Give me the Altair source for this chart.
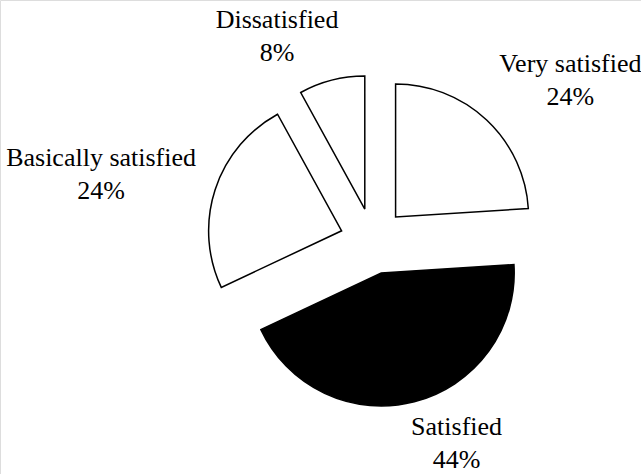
import altair as alt
import pandas as pd

categories = ["Very satisfied", "Satisfied", "Basically satisfied", "Dissatisfied"]
values = [24, 44, 24, 8]
fills = ["white", "black", "white", "white"]

df = pd.DataFrame({"cat": categories, "value": values, "order": list(range(len(categories)))})

CX, CY = 373, 241      # pie centre (px)
R = 133                # slice radius
EXPLODE = 33           # explosion distance
RL = 186               # label anchor distance
CHAR_W = 10            # approx. label character width (px)
FONT = "Liberation Serif"

base = (
    alt.Chart(df)
    .transform_window(cum="sum(value)", sort=[{"field": "order"}], frame=[None, 0])
    .transform_joinaggregate(total="sum(value)")
    .transform_calculate(
        a1="2*PI*datum.cum/datum.total",
        a0="2*PI*(datum.cum-datum.value)/datum.total",
    )
    .transform_calculate(mid="(datum.a0+datum.a1)/2")
    .transform_calculate(
        s="sin(datum.mid)",
        c="cos(datum.mid)",
        w=f"{CHAR_W}*length(datum.cat)",
    )
    .transform_calculate(
        px=f"{CX} + {EXPLODE}*datum.s",
        py=f"{CY} - {EXPLODE}*datum.c",
        ax=f"{CX} + {RL}*datum.s",
        ay=f"{CY} - {RL}*datum.c",
    )
    .transform_calculate(
        lx="datum.ax + clamp(datum.s/0.3, -1, 1)*datum.w/2",
        ly="datum.ay + (datum.c > 0.6 ? -33 : (datum.c < -0.6 ? 14 : -8 - 30*datum.c))",
        label="datum.cat + '\\n' + format(100*datum.value/datum.total, 'd') + '%'",
    )
)

arcs = base.mark_arc(outerRadius=R, stroke="black", strokeWidth=1.5).encode(
    theta=alt.Theta("a0:Q", scale=None),
    theta2="a1:Q",
    x=alt.X("px:Q", scale=None),
    y=alt.Y("py:Q", scale=None),
    fill=alt.Fill("cat:N", scale=alt.Scale(domain=categories, range=fills), legend=None),
)

texts = base.mark_text(
    font=FONT,
    fontSize=26,
    lineBreak="\n",
    lineHeight=33,
    color="black",
    align="center",
    baseline="alphabetic",
).encode(
    x=alt.X("lx:Q", scale=None),
    y=alt.Y("ly:Q", scale=None),
    text="label:N",
)

chart = (
    alt.layer(arcs, texts)
    .properties(width=641, height=474, padding=0, autosize=alt.AutoSizeParams(type="none"))
    .configure_view(stroke=None)
    .configure(background="white", font=FONT)
)

chart.save("out.html", embed_options={"renderer": "svg", "actions": False})
